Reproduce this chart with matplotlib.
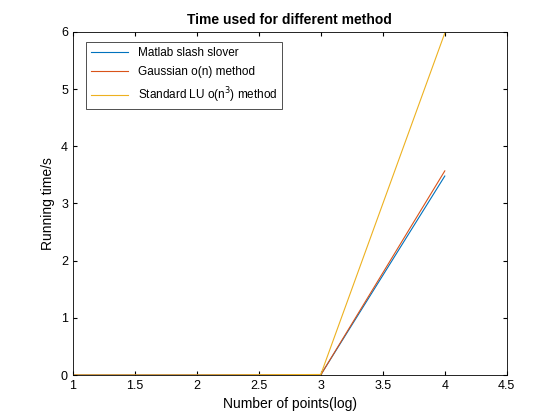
import matplotlib.pyplot as plt

x = [1, 2, 3, 4]
matlab_slash = [0.0, 0.0, 0.005, 3.48]
gaussian = [0.0, 0.0, 0.003, 3.57]
standard_lu = [0.0, 0.0, 0.01, 5.98]

plt.rcParams['font.family'] = ['Liberation Sans', 'DejaVu Sans']
fig = plt.figure(figsize=(5.6, 4.2), dpi=100)
ax = fig.add_axes([0.130, 0.107, 0.775, 0.817])

ax.plot(x, matlab_slash, color='#0072BD', linewidth=0.8, label='Matlab slash slover')
ax.plot(x, gaussian, color='#D95319', linewidth=0.8, label='Gaussian o(n) method')
ax.plot(x, standard_lu, color='#EDB120', linewidth=0.8, label='Standard LU o(n$^3$) method')

ax.set_xlim(1, 4.5)
ax.set_ylim(0, 6)
ax.set_xticks([1, 1.5, 2, 2.5, 3, 3.5, 4, 4.5])
ax.set_xticklabels(['1', '1.5', '2', '2.5', '3', '3.5', '4', '4.5'])
ax.tick_params(direction='in', labelsize=9, top=True, right=True, length=3)
for s in ax.spines.values():
    s.set_linewidth(0.6)
ax.set_title('Time used for different method', fontsize=10, fontweight='bold')
ax.set_xlabel('Number of points(log)', fontsize=10)
ax.set_ylabel('Running time/s', fontsize=10)
leg = ax.legend(loc='upper left', fontsize=8.5, fancybox=False, edgecolor='black',
                bbox_to_anchor=(0.03, 0.97), borderaxespad=0, handlelength=3.2,
                labelspacing=0.6)
leg.get_frame().set_linewidth(0.6)

fig.savefig('out.png', dpi=100)
